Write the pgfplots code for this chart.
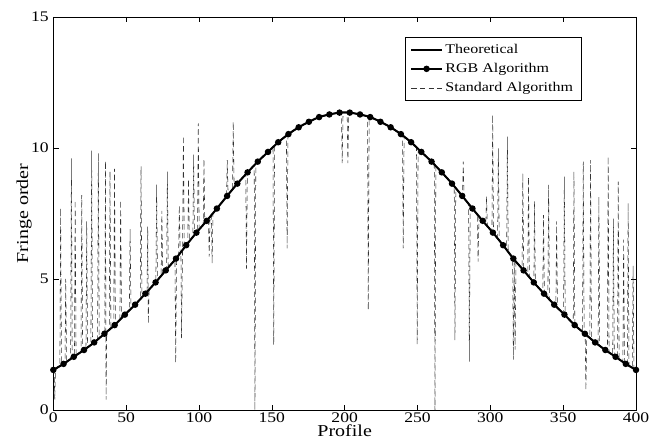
\documentclass[border=0pt]{standalone}
\usepackage{pgfplots}
\pgfplotsset{compat=1.18}
\usepackage{fontspec}
\setmainfont{Liberation Serif}[FakeStretch=1.2]
\begin{document}
\begin{tikzpicture}
\begin{axis}[
  scale only axis,
  width=437pt, height=294.75pt,
  xmin=0, xmax=400, ymin=0, ymax=15,
  xtick={0,50,...,400}, ytick={0,5,10,15},
  tick align=inside, major tick length=4pt,
  axis line style={line width=0.6pt},
  every tick/.style={black, line width=0.5pt},
  /pgf/number format/assume math mode=true,
  tick label style={font=\fontsize{11}{12}\selectfont},
  xticklabel style={yshift=1.5pt},
  xlabel={Profile}, ylabel={Fringe order},
  label style={font=\fontsize{12.5}{14}\selectfont},
  xlabel style={at={(axis description cs:0.5,-0.0534)}, anchor=center},
  ylabel style={at={(axis description cs:-0.0503,0.5)}, anchor=center},
  reverse legend,
  legend image code/.code={\draw[mark repeat=2,mark phase=2,#1] plot coordinates {(0cm,0cm) (0.4cm,0cm) (0.8cm,0cm)};},
  legend style={at={(0.906,0.949)}, anchor=north east, draw=black, line width=0.4pt,
     font=\fontsize{10}{12}\selectfont, cells={anchor=west}, row sep=2pt,
     inner xsep=4pt, inner ysep=3pt},
]
% Standard Algorithm
\addplot[black!80, line width=0.4pt, dash pattern=on 4pt off 2.5pt] coordinates {
(0,1.53)(0.5,1.55)(1,0.4)(1.5,1.57)(4.5,1.68)(5,7.7)(5.6,1.71)(7.02,1.76)
(8,1.80)(8.5,5.0)(9.1,1.83)(11.9,1.95)(12.4,9.6)(13,1.99)(14.04,2.03)
(14.5,2.05)(15,8.0)(15.6,2.09)(19,2.21)(19.5,8.2)(20.1,2.25)(21.05,2.29)
(22.4,2.34)(22.9,7.2)(23.5,2.38)(25.8,2.48)(26.3,9.9)(26.9,2.53)(28.07,2.58)
(30.4,2.69)(30.9,9.8)(31.5,2.74)(35.09,2.91)(35.3,2.92)(35.8,9.5)(36.2,0.4)(36.7,2.99)
(38.4,3.07)(38.9,9.1)(39.5,3.12)(41.5,3.21)(42,9.2)(42.6,3.26)
(45.7,3.43)(46.2,8.0)(46.8,3.50)(49.12,3.64)(52.2,3.81)(52.7,6.9)(53.3,3.87)(56.14,4.02)
(59.7,4.24)(60.2,9.3)(60.8,4.30)(63.16,4.44)(64.3,4.51)(64.8,7.0)(65.2,3.3)(65.8,4.61)
(70.18,4.87)(70.4,4.88)(70.9,8.6)(71.5,4.95)(74,5.12)(74.5,7.6)(75.1,5.19)(77.19,5.33)
(77.8,5.37)(78.3,9.1)(78.9,5.43)(83.5,5.73)(84,1.8)(84.6,5.80)(86,5.92)(86.5,7.8)(87.1,5.99)
(87.6,6.03)(88,2.74)(88.7,6.11)(89.3,10.46)(89.9,6.19)(91.23,6.29)
(92.3,6.36)(92.8,8.8)(93.4,6.44)(95.8,6.61)(96.3,9.75)(96.9,6.68)(98.25,6.77)
(99,6.82)(99.5,10.94)(100.1,6.89)(102.9,7.07)(103.4,9.58)(104,7.14)(105.26,7.22)
(106.5,7.30)(107,5.85)(107.6,7.37)(108.5,7.43)(109,5.6)(109.6,7.49)(112.28,7.69)
(118.9,8.14)(119.4,9.54)(120,8.22)(123,8.42)(123.5,11.0)(124.1,8.49)(126.32,8.64)
(132.1,9.00)(132.6,5.4)(133.2,9.06)(137.9,9.34)(138.4,0.0)(139,9.40)(140.35,9.48)
(147.37,9.85)(150.8,10.03)(151.3,2.48)(151.9,10.09)(154.39,10.22)
(160,10.47)(160.5,6.17)(161.1,10.52)(168.42,10.79)(175.44,11.00)(182.46,11.18)
(189.47,11.28)(196.49,11.35)(197.8,11.35)(198.3,9.42)(198.9,11.35)
(201.7,11.35)(202.2,9.42)(202.8,11.35)(210.53,11.28)
(215.7,11.21)(216.2,3.82)(216.8,11.19)(224.56,11.00)(231.58,10.79)(238.60,10.53)
(239.7,10.48)(240.2,6.17)(240.8,10.43)(245.61,10.22)
(249.3,10.03)(249.8,2.5)(250.4,9.97)(252.63,9.85)(259.65,9.48)
(261.5,9.37)(262,0.0)(262.6,9.31)(266.67,9.07)(273.68,8.64)
(275.2,8.55)(275.7,2.67)(276.3,8.47)(280.9,8.15)(281.4,9.48)(282,8.08)
(285.1,7.86)(285.6,1.85)(286.2,7.79)(287.72,7.69)(291.1,7.46)(291.6,5.66)(292.2,7.39)
(294.74,7.22)(296.9,7.08)(297.4,8.16)(298,7.02)(301.1,6.81)(301.6,11.26)(302.2,6.74)
(305,6.55)(305.5,9.99)(306.1,6.48)(308.77,6.29)(311.2,6.11)(311.7,10.43)(312.3,6.04)
(315.3,5.81)(315.8,1.92)(316.4,5.74)(317,2.3)(317.6,5.66)
(321.8,5.39)(322.3,9.03)(322.9,5.32)(325.7,5.14)(326.2,8.88)(326.8,5.07)
(329.9,4.86)(330.3,7.97)(330.9,4.80)(336,4.49)(336.5,7.44)(337.1,4.43)
(339.5,4.28)(340,8.59)(340.6,4.22)(343.86,4.02)(345,3.96)(345.5,7.2)(346.1,3.90)
(350.3,3.67)(350.8,8.91)(351.4,3.61)(356.9,3.29)(357.4,9.1)(358,3.24)
(363.3,2.99)(363.8,9.48)(364.4,2.93)(365.1,2.90)(365.6,0.76)(366.2,2.85)
(368.3,2.75)(368.8,9.54)(369.4,2.70)(371.93,2.58)(374,2.49)(374.5,8.14)(375.1,2.44)
(378.95,2.29)(380.4,2.24)(380.9,9.67)(381.5,2.20)(384,2.10)(384.5,7.3)(385.1,2.06)
(387.3,1.98)(387.8,8.72)(388.4,1.94)(391,1.84)(391.5,6.5)(392.1,1.79)
(394.1,1.72)(394.6,7.9)(395.2,1.69)(397.5,1.62)(398,5.5)(398.6,1.58)(400,1.53)
};
\addlegendentry{Standard Algorithm}
% RGB Algorithm
\addplot[black, line width=1pt, mark=*, mark size=1.9pt, mark options={solid, fill=black}] coordinates {
(0,1.53)(7.02,1.76)(14.04,2.03)(21.05,2.29)(28.07,2.58)(35.09,2.91)(42.11,3.24)(49.12,3.64)
(56.14,4.02)(63.16,4.44)(70.18,4.87)(77.19,5.33)(84.21,5.78)(91.23,6.29)(98.25,6.77)
(105.26,7.22)(112.28,7.69)(119.30,8.17)(126.32,8.64)(133.33,9.07)(140.35,9.48)
(147.37,9.85)(154.39,10.22)(161.40,10.53)(168.42,10.79)(175.44,11.00)(182.46,11.18)
(189.47,11.28)(196.49,11.35)(203.51,11.35)(210.53,11.28)(217.54,11.18)(224.56,11.00)
(231.58,10.79)(238.60,10.53)(245.61,10.22)(252.63,9.85)(259.65,9.48)(266.67,9.07)
(273.68,8.64)(280.70,8.17)(287.72,7.69)(294.74,7.22)(301.75,6.77)(308.77,6.29)
(315.79,5.78)(322.81,5.33)(329.82,4.87)(336.84,4.44)(343.86,4.02)(350.88,3.64)
(357.89,3.24)(364.91,2.91)(371.93,2.58)(378.95,2.29)(385.96,2.03)(392.98,1.76)(400,1.53)
};
\addlegendentry{RGB Algorithm}
% Theoretical
\addplot[black, line width=1.5pt, smooth] coordinates {
(0,1.53)(7.02,1.76)(14.04,2.03)(21.05,2.29)(28.07,2.58)(35.09,2.91)(42.11,3.24)(49.12,3.64)
(56.14,4.02)(63.16,4.44)(70.18,4.87)(77.19,5.33)(84.21,5.78)(91.23,6.29)(98.25,6.77)
(105.26,7.22)(112.28,7.69)(119.30,8.17)(126.32,8.64)(133.33,9.07)(140.35,9.48)
(147.37,9.85)(154.39,10.22)(161.40,10.53)(168.42,10.79)(175.44,11.00)(182.46,11.18)
(189.47,11.28)(196.49,11.35)(203.51,11.35)(210.53,11.28)(217.54,11.18)(224.56,11.00)
(231.58,10.79)(238.60,10.53)(245.61,10.22)(252.63,9.85)(259.65,9.48)(266.67,9.07)
(273.68,8.64)(280.70,8.17)(287.72,7.69)(294.74,7.22)(301.75,6.77)(308.77,6.29)
(315.79,5.78)(322.81,5.33)(329.82,4.87)(336.84,4.44)(343.86,4.02)(350.88,3.64)
(357.89,3.24)(364.91,2.91)(371.93,2.58)(378.95,2.29)(385.96,2.03)(392.98,1.76)(400,1.53)
};
\addlegendentry{Theoretical}
\end{axis}
\pgfresetboundingbox
\path[use as bounding box] ([xshift=-40pt,yshift=-27pt]current axis.south west) rectangle ([xshift=18pt,yshift=12.75pt]current axis.north east);
\end{tikzpicture}
\end{document}
